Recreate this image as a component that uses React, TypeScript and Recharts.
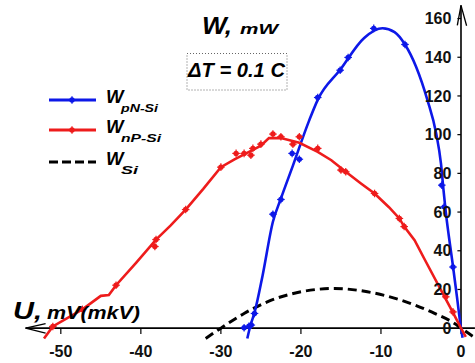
import React from 'react'
import { ComposedChart, Line, Scatter, XAxis, YAxis, ReferenceLine } from 'recharts'

const xTicks = [-50, -40, -30, -20, -10, 0]
const yTicks = [0, 20, 40, 60, 80, 100, 120, 140, 160]

// fitted curve and measured points, [U, W]
const pnCurve: [number, number][] = [
  [-26.7, -5.3], [-26.3, 1.5], [-25.8, 8], [-24.8, 27], [-23.5, 55], [-22.5, 67], [-21, 84],
  [-19, 107], [-17.9, 118], [-15.1, 133.5], [-12.1, 150], [-9.8, 155], [-8.3, 153], [-7, 146.6],
  [-5.6, 135], [-4.2, 118], [-3.1, 100.6], [-2.5, 85], [-2.2, 72], [-1.9, 60], [-1.5, 47],
  [-1, 32], [-0.5, 16], [0, 0], [0.2, -5],
]
const pnPoints: [number, number][] = [
  [-27.1, 0.2], [-26.5, 1.0], [-26.2, 1.6], [-25.8, 7.6], [-23.5, 58.9], [-22.5, 66.5],
  [-21.1, 90.3], [-20.2, 87.3], [-17.9, 119.2], [-15.1, 133.3], [-14.1, 139.9], [-10.9, 154.9],
  [-7, 146.6], [-2.4, 73.9], [-2.1, 62.7], [-1, 31.6],
]

const npCurve: [number, number][] = [
  [-52.1, -5.3], [-51, 0.9], [-47.3, 9.7], [-45, 16.7], [-44, 17.1], [-43.1, 22.2], [-40.6, 33.8],
  [-38.1, 45.8], [-36.3, 53], [-34.4, 61.3], [-32.2, 72], [-30, 83.2], [-28.3, 87.2], [-26.3, 91.5],
  [-25, 94.3], [-24, 98.2], [-22.5, 98.3], [-20.2, 95.8], [-17.9, 91.1], [-16.2, 86.8], [-14.4, 80.8],
  [-12.5, 74.8], [-10.8, 69.6], [-9, 62.5], [-7.7, 56.7], [-7.1, 52.5], [-5.8, 45.5], [-4.6, 36],
  [-1.9, 15], [-1, 8], [0, 0], [0.6, -4.5],
]
const npPoints: [number, number][] = [
  [-51, 0.9], [-47.3, 9.7], [-43.1, 22.2], [-38.25, 42.2], [-38.1, 45.8], [-34.4, 61.3], [-30, 83.2],
  [-28.1, 90.3], [-27.1, 90.3], [-26.25, 89.4], [-26, 92.9], [-25, 95.1], [-23.5, 100.3],
  [-22.5, 98.9], [-21, 95.1], [-20.2, 98.9], [-17.9, 92.9], [-15, 81.7], [-14.4, 80.8],
  [-10.8, 69.6], [-7.7, 56.7], [-7.1, 52.5], [-1.9, 16.2], [-1.0, 8.4],
]

const siCurve: [number, number][] = [
  [-31.9, -5.3], [-30, 0], [-27.1, 7.6], [-24.2, 13.6], [-20, 18.8], [-15.8, 20.5], [-11.7, 18.8],
  [-7.5, 14.5], [-3.3, 7.6], [-0.8, 2.4], [0, 0], [1.7, -4.8],
]

const toRows = (pts: [number, number][]) => pts.map(([x, y]) => ({ x, y }))

const BLUE = '#0d18e8'
const RED = '#ee1c1c'
const FONT = '"Liberation Sans", Arial, sans-serif'

const Marker = ({ cx, cy, color }: { cx?: number; cy?: number; color: string }) => {
  if (cx == null || cy == null) return null
  return (
    <g>
      <circle cx={cx} cy={cy} r={2.7} fill={color} />
      <line x1={cx - 3.8} x2={cx + 3.8} y1={cy} y2={cy} stroke={color} strokeWidth={1.2} />
      <line x1={cx} x2={cx} y1={cy - 3.8} y2={cy + 3.8} stroke={color} strokeWidth={1.2} />
    </g>
  )
}

const tickLabel = { fill: '#111', fontSize: 16, fontWeight: 'bold', fontFamily: FONT }

function Overlay() {
  return (
    <svg
      width={475}
      height={363}
      fontFamily={FONT}
      style={{ position: 'absolute', left: 0, top: 0, pointerEvents: 'none' }}
    >
      {/* title */}
      <text x={202} y={33.5} fontSize={23} fontWeight="bold" fontStyle="italic" textLength={30} lengthAdjust="spacingAndGlyphs">W,</text>
      <text x={240} y={33.5} fontSize={15} fontWeight="bold" fontStyle="italic" textLength={38} lengthAdjust="spacingAndGlyphs">mW</text>

      <rect x={187} y={53.5} width={100} height={36.5} fill="none" stroke="#666" strokeDasharray="1 2" />
      <text x={188} y={77} fontSize={19.5} fontWeight="bold" fontStyle="italic" textLength={97} lengthAdjust="spacingAndGlyphs">ΔT = 0.1 C</text>

      {/* axis label */}
      <text x={13} y={318.5} fontSize={23} fontWeight="bold" fontStyle="italic" textLength={29} lengthAdjust="spacingAndGlyphs">U,</text>
      <text x={47} y={318.5} fontSize={19} fontWeight="bold" fontStyle="italic" textLength={93} lengthAdjust="spacingAndGlyphs">mV(mkV)</text>

      {/* legend */}
      <line x1={49} x2={96} y1={100} y2={100} stroke={BLUE} strokeWidth={3} />
      <Marker cx={72} cy={100} color={BLUE} />
      <text x={106} y={102.5} fontSize={18.5} fontWeight="bold" fontStyle="italic">W</text>
      <text x={121} y={111.5} fontSize={11.5} fontWeight="bold" fontStyle="italic" textLength={37} lengthAdjust="spacingAndGlyphs">pN-Si</text>

      <line x1={49} x2={96} y1={130} y2={130} stroke={RED} strokeWidth={3} />
      <Marker cx={72} cy={130} color={RED} />
      <text x={106} y={132.5} fontSize={18.5} fontWeight="bold" fontStyle="italic">W</text>
      <text x={121} y={141.5} fontSize={11.5} fontWeight="bold" fontStyle="italic" textLength={40} lengthAdjust="spacingAndGlyphs">nP-Si</text>

      <line x1={49} x2={96} y1={162} y2={162} stroke="#000" strokeWidth={3} strokeDasharray="9 4" />
      <text x={106} y={164.5} fontSize={18.5} fontWeight="bold" fontStyle="italic">W</text>
      <text x={121} y={173.5} fontSize={11.5} fontWeight="bold" fontStyle="italic" textLength={17} lengthAdjust="spacingAndGlyphs">Si</text>
    </svg>
  )
}

export default function App() {
  return (
    <div style={{ position: 'fixed', left: 0, top: 0, width: 475, height: 363, background: '#fff' }}>
      <ComposedChart width={475} height={363} margin={{ top: 5, right: 0, bottom: 0, left: 20 }}>
        <XAxis type="number" dataKey="x" domain={[-55.1, 1.75]} allowDataOverflow hide />
        <YAxis type="number" dataKey="y" domain={[-18, 167]} allowDataOverflow hide />

        {/* axes drawn through the origin */}
        <ReferenceLine segment={[{ x: -54.4, y: 0 }, { x: 1.74, y: 0 }]} stroke="#000" strokeWidth={1.6} />
        <ReferenceLine segment={[{ x: -54.4, y: 0 }, { x: -51.9, y: 2.4 }]} stroke="#000" strokeWidth={1.3} />
        <ReferenceLine segment={[{ x: -54.4, y: 0 }, { x: -51.9, y: -2.6 }]} stroke="#000" strokeWidth={1.3} />
        <ReferenceLine segment={[{ x: 0, y: 0 }, { x: 0, y: 166.8 }]} stroke="#000" strokeWidth={1.6} />
        <ReferenceLine segment={[{ x: 0, y: 166.8 }, { x: -0.46, y: 156.5 }]} stroke="#000" strokeWidth={1.3} />
        <ReferenceLine segment={[{ x: 0, y: 166.8 }, { x: 0.7, y: 156.3 }]} stroke="#000" strokeWidth={1.3} />

        {xTicks.map((t) => (
          <ReferenceLine
            key={`xt${t}`}
            segment={[{ x: t, y: 0 }, { x: t, y: -3 }]}
            stroke="#000"
            strokeWidth={1.2}
            label={{ value: String(t), position: 'bottom', offset: 12, ...tickLabel }}
          />
        ))}
        {yTicks.map((t) => (
          <ReferenceLine
            key={`yt${t}`}
            segment={[{ x: -0.45, y: t }, { x: 0, y: t }]}
            stroke="#000"
            strokeWidth={1.2}
            label={{ value: String(t), position: 'left', offset: 6, ...tickLabel }}
          />
        ))}

        <Line
          data={toRows(siCurve)}
          dataKey="y"
          type="monotone"
          stroke="#000"
          strokeWidth={3}
          strokeDasharray="9 5"
          dot={false}
          activeDot={false}
          isAnimationActive={false}
        />
        <Line
          data={toRows(pnCurve)}
          dataKey="y"
          type="monotone"
          stroke={BLUE}
          strokeWidth={2.6}
          dot={false}
          activeDot={false}
          isAnimationActive={false}
        />
        <Line
          data={toRows(npCurve)}
          dataKey="y"
          type="linear"
          stroke={RED}
          strokeWidth={2.6}
          dot={false}
          activeDot={false}
          isAnimationActive={false}
        />
        <Scatter
          data={toRows(pnPoints)}
          dataKey="y"
          shape={(p: any) => <Marker cx={p.cx} cy={p.cy} color={BLUE} />}
          isAnimationActive={false}
        />
        <Scatter
          data={toRows(npPoints)}
          dataKey="y"
          shape={(p: any) => <Marker cx={p.cx} cy={p.cy} color={RED} />}
          isAnimationActive={false}
        />
      </ComposedChart>
      <Overlay />
    </div>
  )
}
